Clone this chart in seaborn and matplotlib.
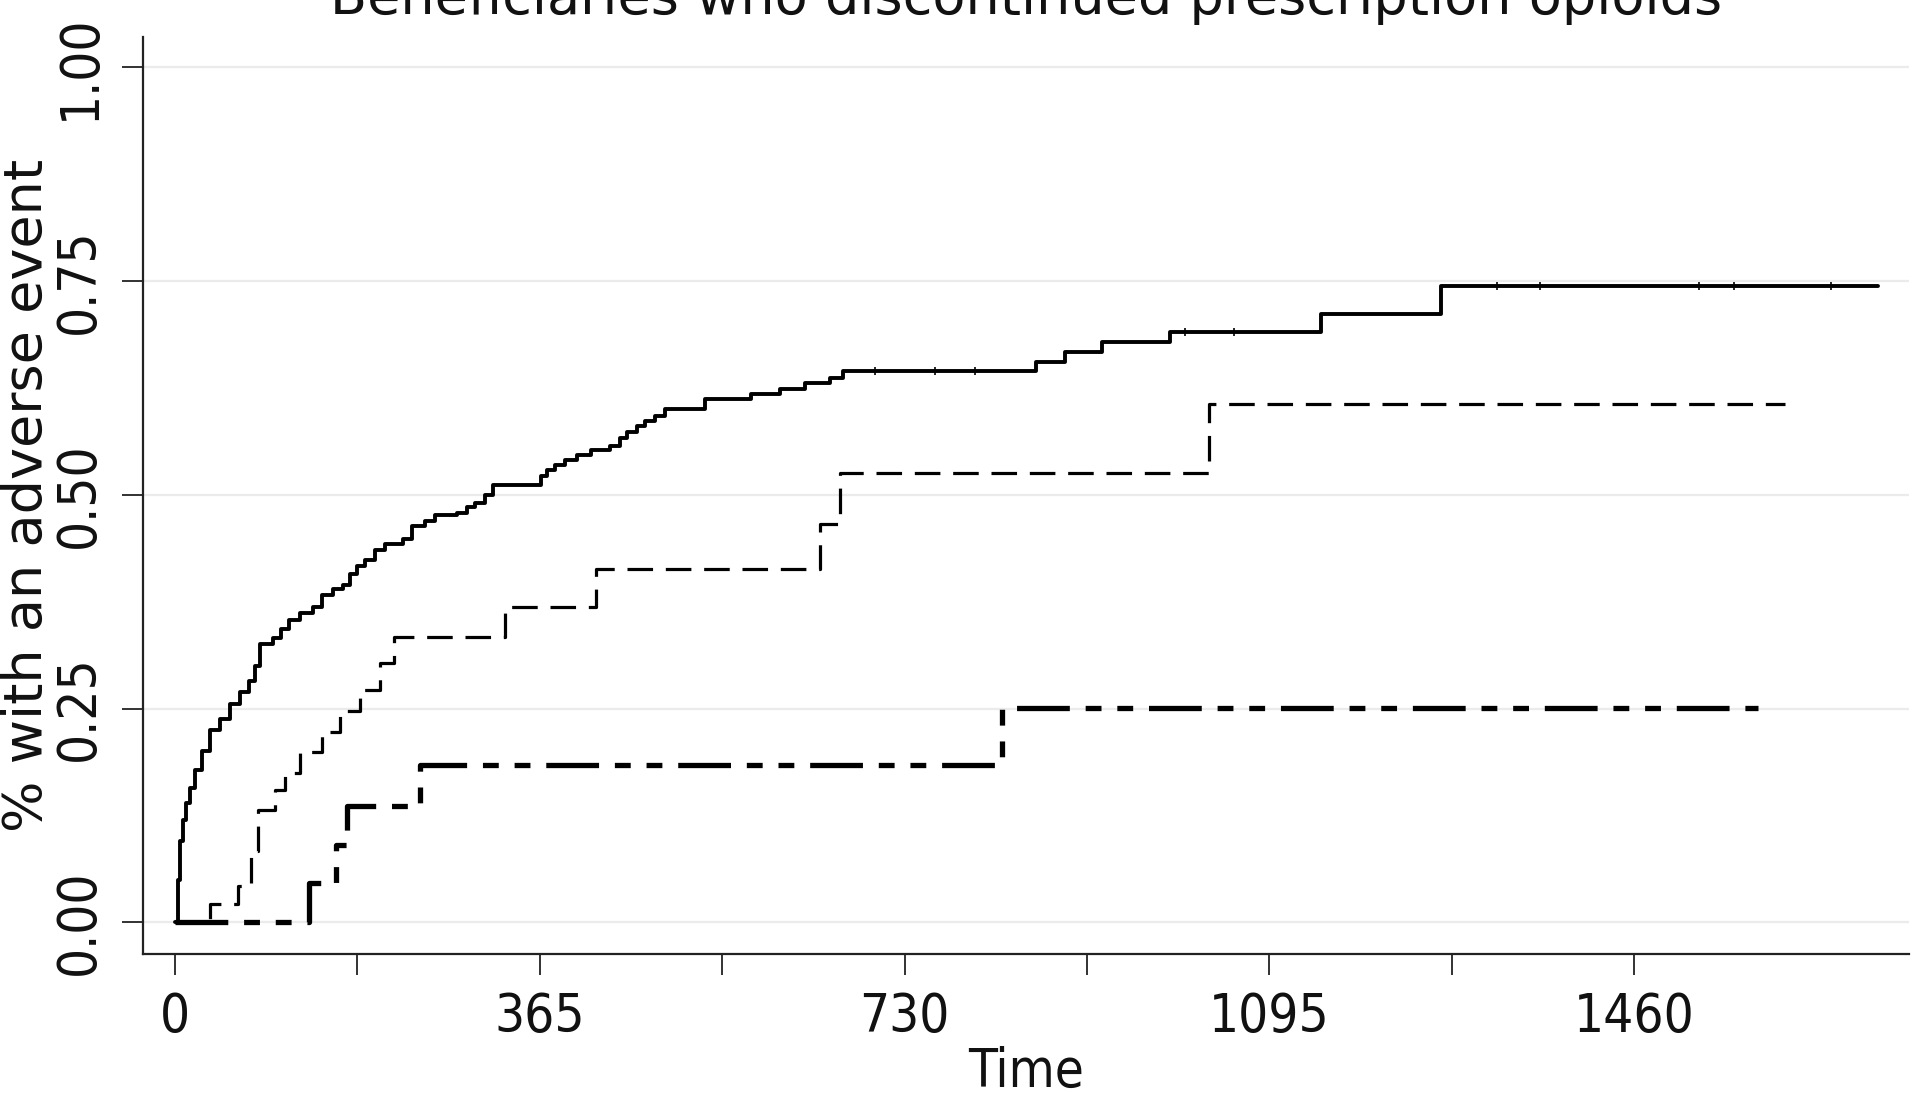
import numpy as np
import pandas as pd
import seaborn as sns
import matplotlib.pyplot as plt

# cumulative incidence (time in days, share with event)
solid_t = [0, 3, 5, 8, 11, 15, 20, 27, 35, 45, 55, 65, 74, 80, 85, 98, 106, 114, 125,
           138, 147, 158, 168, 175, 182, 190, 200, 210, 228, 237, 250, 260, 282, 292,
           300, 310, 318, 355, 366, 372, 380, 390, 402, 416, 435, 445, 452, 462, 470,
           480, 490, 530, 576, 605, 630, 655, 668, 861, 890, 927, 995, 1147, 1267, 1704]
solid_v = [0, 0.05, 0.095, 0.12, 0.14, 0.157, 0.178, 0.20, 0.225, 0.238, 0.255, 0.27,
           0.282, 0.30, 0.325, 0.333, 0.343, 0.354, 0.362, 0.369, 0.383, 0.39, 0.395,
           0.408, 0.417, 0.424, 0.435, 0.443, 0.448, 0.464, 0.47, 0.476, 0.479, 0.486,
           0.491, 0.50, 0.512, 0.512, 0.522, 0.529, 0.535, 0.541, 0.547, 0.553, 0.557,
           0.566, 0.573, 0.58, 0.586, 0.592, 0.60, 0.612, 0.618, 0.624, 0.631, 0.637,
           0.645, 0.656, 0.667, 0.679, 0.691, 0.711, 0.744, 0.744]

dashed_t = [0, 35, 63, 76, 83, 100, 110, 125, 147, 165, 185, 205, 219, 330, 421, 645,
            665, 1035, 1611]
dashed_v = [0, 0.022, 0.043, 0.084, 0.131, 0.155, 0.175, 0.199, 0.223, 0.247, 0.272,
            0.303, 0.334, 0.369, 0.413, 0.466, 0.526, 0.606, 0.606]

dashdot_t = [0, 134, 161, 172, 245, 827, 1584]
dashdot_v = [0, 0.046, 0.091, 0.136, 0.184, 0.251, 0.251]

# censoring marks on the solid curve
cens_t = [700, 760, 800, 1010, 1060, 1323, 1366, 1525, 1560, 1657]
cens_v = [0.645, 0.645, 0.645, 0.691, 0.691, 0.744, 0.744, 0.744, 0.744, 0.744]

title = 'Beneficiaries who discontinued prescription opioids'
xticks = [0, 365, 730, 1095, 1460]
yticks = [0.00, 0.25, 0.50, 0.75, 1.00]

sns.set_style('ticks')
plt.rcParams['font.family'] = ['DejaVu Sans']
plt.rcParams['font.stretch'] = 'condensed'
plt.rcParams['text.color'] = '#111111'
plt.rcParams['xtick.labelcolor'] = '#111111'
plt.rcParams['ytick.labelcolor'] = '#111111'
plt.rcParams['axes.labelcolor'] = '#111111'

fig = plt.figure(figsize=(19.15, 10.94), dpi=100)
ax = fig.add_axes([0.0746, 0.128, 0.9224, 0.8385])

for y in yticks:
    ax.axhline(y, color='#ebebeb', lw=1.6, zorder=0)

sns.lineplot(x=solid_t, y=solid_v, ax=ax, estimator=None, drawstyle='steps-post',
             color='black', lw=2.8)
sns.lineplot(x=dashed_t, y=dashed_v, ax=ax, estimator=None, drawstyle='steps-post',
             color='black', lw=2.3, linestyle=(0, (8, 4)))
sns.lineplot(x=dashdot_t, y=dashdot_v, ax=ax, estimator=None, drawstyle='steps-post',
             color='black', lw=3.8, linestyle=(0, (10, 3, 3, 3, 3, 3)))
ax.plot(cens_t, cens_v, ls='none', marker='|', ms=6, mew=1.2, color='black')

ax.set_xlim(-32, 1735)
ax.set_ylim(-0.037, 1.036)
xt = np.arange(0, 1461, 182.5)
ax.set_xticks(xt)
ax.set_xticklabels([str(int(t)) if t in xticks else '' for t in xt])
ax.set_yticks(yticks)
ax.set_yticklabels(['%.2f' % y for y in yticks], rotation=90, va='center')

ax.tick_params(axis='both', labelsize=38, length=15, width=1.3, pad=12, color='#222222')
for s in ['top', 'right']:
    ax.spines[s].set_visible(False)
for s in ['left', 'bottom']:
    ax.spines[s].set_linewidth(1.6)
    ax.spines[s].set_color('#222222')

ax.set_xlabel('Time', fontsize=38, labelpad=2)
ax.set_ylabel('% with an adverse event', fontsize=39, fontstretch='normal')
ax.yaxis.label.set_verticalalignment('baseline')
ax.yaxis.set_label_coords(-0.057, 0.5)

fig.text(0.536, 0.987, title, ha='center', va='baseline', fontsize=39,
         fontstretch='normal')

fig.savefig('out.png', dpi=100)
